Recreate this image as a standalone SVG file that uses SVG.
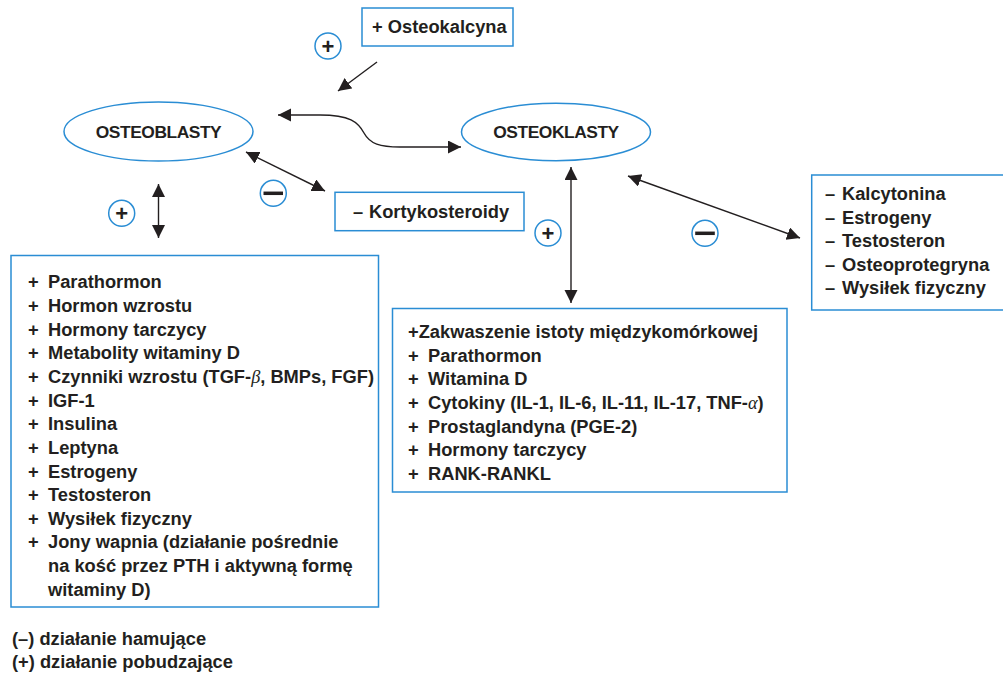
<svg xmlns="http://www.w3.org/2000/svg" width="1003" height="674" viewBox="0 0 1003 674">
<defs>
<style>
.box{fill:#fff;stroke:#2a8dd4;stroke-width:1.5}
.ell{fill:#fff;stroke:#2a8dd4;stroke-width:1.5}
.t{font-family:"Liberation Sans",Arial,sans-serif;font-weight:bold;font-size:18.3px;fill:#231f20}
.h{font-family:"Liberation Sans",Arial,sans-serif;font-weight:bold;font-size:17.4px;letter-spacing:-0.45px;fill:#231f20}
.sig{font-family:"Liberation Sans",Arial,sans-serif;font-weight:bold;font-size:22px;fill:#231f20;text-anchor:middle}
.cir{fill:#fff;stroke:#2a8dd4;stroke-width:1.5}
.ln{fill:none;stroke:#231f20;stroke-width:1.4}
</style>
<marker id="ah" markerUnits="userSpaceOnUse" markerWidth="14" markerHeight="14" refX="13" refY="6.5" orient="auto-start-reverse">
<path d="M0,0 L13,6.5 L0,13 z" fill="#231f20"/>
</marker>
</defs>
<rect width="1003" height="674" fill="#fff"/>

<g id="connectors">
<path class="ln" d="M377,62 L338,91" marker-end="url(#ah)"/>
<path class="ln" d="M278,115 L320,115 C350,115 358,122 364,133 C370,144 380,147 400,147 L461,147" marker-start="url(#ah)" marker-end="url(#ah)"/>
<path class="ln" d="M246,152 L325,191" marker-start="url(#ah)" marker-end="url(#ah)"/>
<path class="ln" d="M158.5,184 L158.5,238" marker-start="url(#ah)" marker-end="url(#ah)"/>
<path class="ln" d="M571,167 L571,303" marker-start="url(#ah)" marker-end="url(#ah)"/>
<path class="ln" d="M628,176 L800,238" marker-start="url(#ah)" marker-end="url(#ah)"/>
</g>

<g id="sign-plus-top"><circle class="cir" cx="328" cy="46" r="13"/><text class="sig" x="328" y="53.5">+</text></g>
<g id="sign-minus-left"><circle class="cir" cx="273.3" cy="193.3" r="13"/><path d="M263.5,193.3 H283" stroke="#231f20" stroke-width="3.5"/></g>
<g id="sign-plus-left"><circle class="cir" cx="121.7" cy="213.3" r="13"/><text class="sig" x="121.7" y="221">+</text></g>
<g id="sign-plus-mid"><circle class="cir" cx="548" cy="233" r="13"/><text class="sig" x="548" y="240.7">+</text></g>
<g id="sign-minus-right"><circle class="cir" cx="705" cy="233.3" r="13"/><path d="M695.2,233.3 H714.8" stroke="#231f20" stroke-width="3.5"/></g>

<g id="osteokalcyna">
<rect class="box" x="362" y="8" width="151" height="38"/>
<text class="t" x="372" y="33">+ Osteokalcyna</text>
</g>

<g id="osteoblasty">
<ellipse class="ell" cx="158.5" cy="131.5" rx="94.5" ry="29.5"/>
<text class="h" x="158.5" y="138" text-anchor="middle">OSTEOBLASTY</text>
</g>

<g id="osteoklasty">
<ellipse class="ell" cx="556" cy="132" rx="94.5" ry="28.7"/>
<text class="h" x="556" y="138.3" text-anchor="middle">OSTEOKLASTY</text>
</g>

<g id="kortykosteroidy">
<rect class="box" x="335" y="192.3" width="189" height="38.4"/>
<text class="t" y="218"><tspan x="353">– </tspan><tspan x="369">Kortykosteroidy</tspan></text>
</g>

<g id="inhibitors-osteoklasty">
<rect class="box" x="811.7" y="175" width="200" height="135"/>
<text class="t"><tspan x="825" y="200">– </tspan><tspan x="842" y="200">Kalcytonina</tspan></text>
<text class="t"><tspan x="825" y="223.5">– </tspan><tspan x="842" y="223.5">Estrogeny</tspan></text>
<text class="t"><tspan x="825" y="247">– </tspan><tspan x="842" y="247">Testosteron</tspan></text>
<text class="t"><tspan x="825" y="270.5">– </tspan><tspan x="842" y="270.5">Osteoprotegryna</tspan></text>
<text class="t"><tspan x="825" y="294">– </tspan><tspan x="842" y="294">Wysiłek fizyczny</tspan></text>
</g>

<g id="stimulators-osteoblasty">
<rect class="box" x="11" y="255.5" width="367.5" height="351.5"/>
<text class="t"><tspan x="28" y="288.3">+ </tspan><tspan x="48" y="288.3">Parathormon</tspan></text>
<text class="t"><tspan x="28" y="311.95">+ </tspan><tspan x="48" y="311.95">Hormon wzrostu</tspan></text>
<text class="t"><tspan x="28" y="335.6">+ </tspan><tspan x="48" y="335.6">Hormony tarczycy</tspan></text>
<text class="t"><tspan x="28" y="359.25">+ </tspan><tspan x="48" y="359.25">Metabolity witaminy D</tspan></text>
<text class="t"><tspan x="28" y="382.9">+ </tspan><tspan x="48" y="382.9">Czynniki wzrostu (TGF-<tspan font-family="Liberation Serif,serif" font-style="italic" font-weight="normal">β</tspan>, BMPs, FGF)</tspan></text>
<text class="t"><tspan x="28" y="406.55">+ </tspan><tspan x="48" y="406.55">IGF-1</tspan></text>
<text class="t"><tspan x="28" y="430.2">+ </tspan><tspan x="48" y="430.2">Insulina</tspan></text>
<text class="t"><tspan x="28" y="453.85">+ </tspan><tspan x="48" y="453.85">Leptyna</tspan></text>
<text class="t"><tspan x="28" y="477.5">+ </tspan><tspan x="48" y="477.5">Estrogeny</tspan></text>
<text class="t"><tspan x="28" y="501.15">+ </tspan><tspan x="48" y="501.15">Testosteron</tspan></text>
<text class="t"><tspan x="28" y="524.8">+ </tspan><tspan x="48" y="524.8">Wysiłek fizyczny</tspan></text>
<text class="t"><tspan x="28" y="548.45">+ </tspan><tspan x="48" y="548.45">Jony wapnia (działanie pośrednie</tspan></text>
<text class="t" x="48" y="572.1">na kość przez PTH i aktywną formę</text>
<text class="t" x="48" y="595.75">witaminy D)</text>
</g>

<g id="stimulators-osteoklasty">
<rect class="box" x="392.5" y="308.5" width="394.5" height="183.5"/>
<text class="t" x="408" y="338">+Zakwaszenie istoty międzykomórkowej</text>
<text class="t"><tspan x="408" y="361.65">+ </tspan><tspan x="428" y="361.65">Parathormon</tspan></text>
<text class="t"><tspan x="408" y="385.3">+ </tspan><tspan x="428" y="385.3">Witamina D</tspan></text>
<text class="t"><tspan x="408" y="408.95">+ </tspan><tspan x="428" y="408.95">Cytokiny (IL-1, IL-6, IL-11, IL-17, TNF-<tspan font-family="Liberation Serif,serif" font-style="italic" font-weight="normal">α</tspan>)</tspan></text>
<text class="t"><tspan x="408" y="432.6">+ </tspan><tspan x="428" y="432.6">Prostaglandyna (PGE-2)</tspan></text>
<text class="t"><tspan x="408" y="456.25">+ </tspan><tspan x="428" y="456.25">Hormony tarczycy</tspan></text>
<text class="t"><tspan x="408" y="479.9">+ </tspan><tspan x="428" y="479.9">RANK-RANKL</tspan></text>
</g>

<g id="legend">
<text class="t" x="12" y="645">(–) działanie hamujące</text>
<text class="t" x="12" y="668">(+) działanie pobudzające</text>
</g>
</svg>
